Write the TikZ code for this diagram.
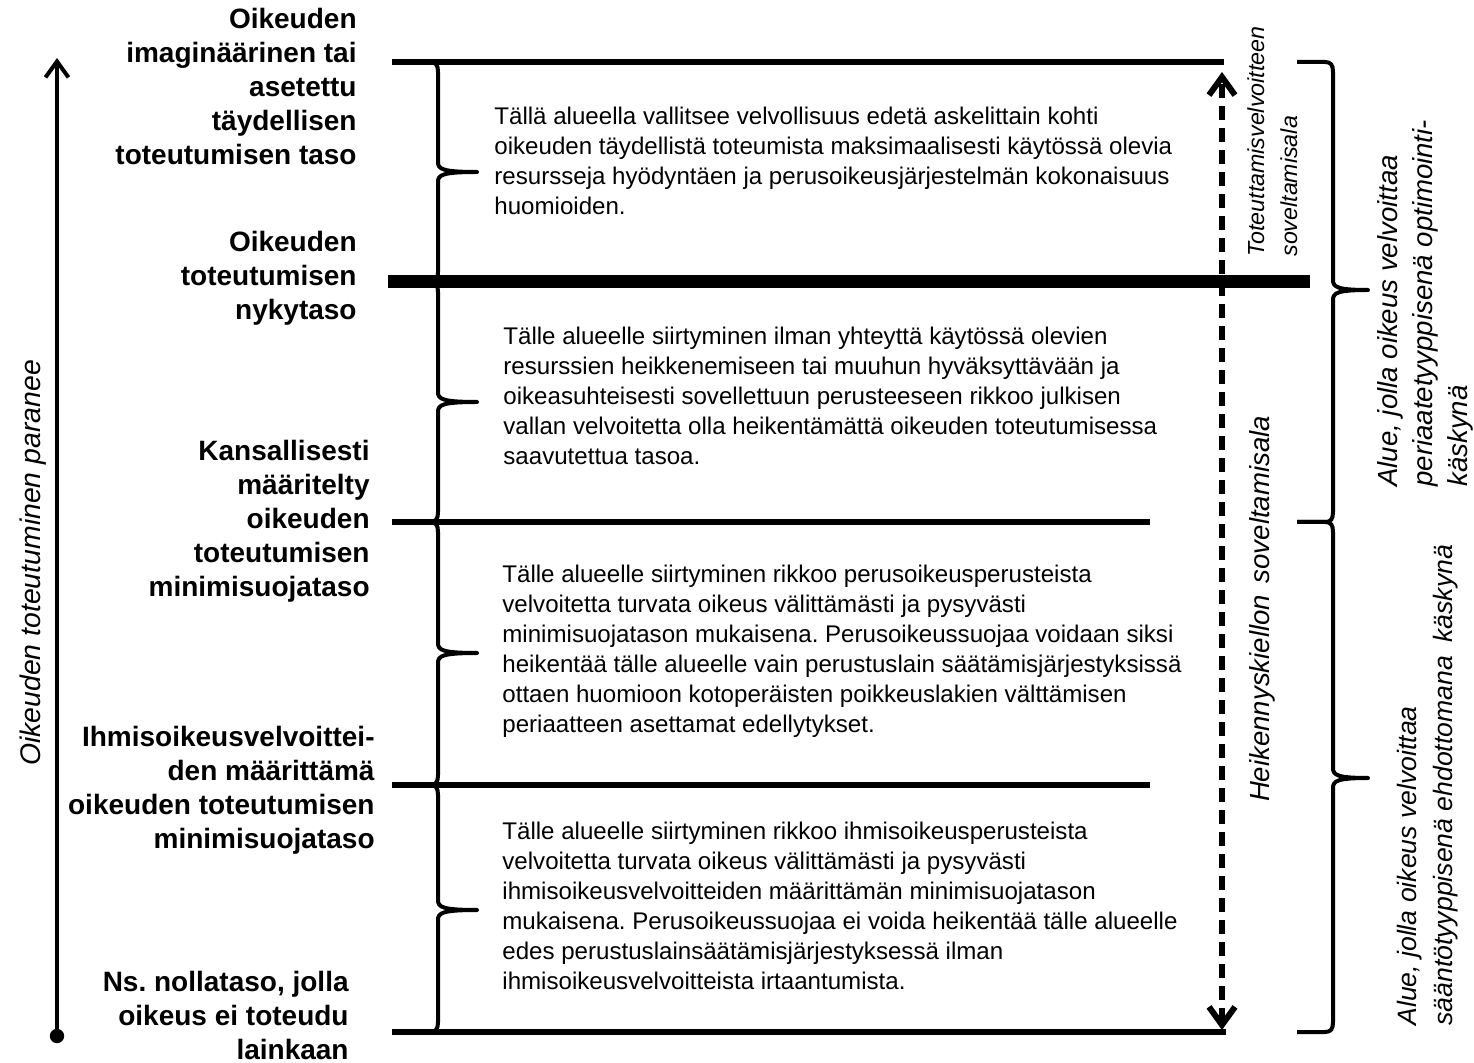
\documentclass[tikz,border=0pt]{standalone}
\usepackage{fontspec}
\setmainfont{Liberation Sans}
\usetikzlibrary{arrows.meta}
\frenchspacing
\newcommand\Brc[6]{%
  \draw[brc] (#1,#4) -- ({#2-8},#4) .. controls ({#2-2},#4) and (#2,{#4+3}) .. (#2,{#4+10})
    -- (#2,{#5-10}) .. controls (#2,{#5-3}) and ({#2+4},#5) .. (#3,#5)
    .. controls ({#2+4},#5) and (#2,{#5+3}) .. (#2,{#5+10})
    -- (#2,{#6-10}) .. controls (#2,{#6-3}) and ({#2-2},#6) .. ({#2-8},#6) -- (#1,#6);}
\begin{document}
\begin{tikzpicture}[x=0.5pt,y=-0.5pt,
  lvl/.style={line width=3pt},
  brc/.style={line width=2pt, line join=round},
  body/.style={font=\fontsize{12.05}{15}\selectfont, align=left, anchor=north west, inner sep=0pt},
  lab/.style={font=\bfseries\fontsize{14}{17}\selectfont, align=right, anchor=north east, inner sep=0pt},
  rlab/.style={font=\itshape\fontsize{12}{17}\selectfont, align=left, rotate=90, inner sep=0pt},
  dasharr/.style={line width=3pt, dash pattern=on 7pt off 4pt,
     {Straight Barb[length=9pt,width=13pt]}-{Straight Barb[length=9pt,width=13pt]}},
  axis/.style={line width=2pt, -{Straight Barb[length=8pt,width=11.5pt]}}]
\useasboundingbox (0,0) rectangle (1474,1063);

% level lines
\draw[lvl] (392,62) -- (1224,62);
\draw[line width=6.5pt] (388,282) -- (1310,282);
\draw[lvl] (392,522) -- (1150,522);
\draw[lvl] (392,785) -- (1150,785);
\draw[lvl] (392,1032) -- (1226,1032);

% left braces
\Brc{428}{438}{477}{62}{172}{282}
\Brc{428}{438}{477}{282}{402}{522}
\Brc{428}{438}{477}{522}{653}{785}
\Brc{428}{438}{477}{785}{910}{1032}
% right braces
\Brc{1297}{1333}{1368}{62}{290}{522}
\Brc{1297}{1333}{1368}{522}{778}{1032}

% axis
\coordinate (axb) at (57,1036);
\coordinate (axt) at (57,58);
\draw[axis] (axb) -- (axt);
\fill (axb) circle[radius=3.6pt];
\node[rlab, font=\itshape\fontsize{14.2}{17}\selectfont] (axl) at (33,563) {Oikeuden toteutuminen paranee};

% dashed arrow
\coordinate (db) at (1222,1030);
\coordinate (dt) at (1222,72);
\draw[dasharr] (db) -- (dt);

% left labels
\node[lab] (l1) at (357,8) {Oikeuden\\imaginäärinen tai\\asetettu\\täydellisen\\toteutumisen taso};
\node[lab] (l2) at (357,231) {Oikeuden\\toteutumisen\\nykytaso};
\node[lab] (l3) at (370,440) {Kansallisesti\\määritelty\\oikeuden\\toteutumisen\\minimisuojataso};
\node[lab] (l4) at (375,726) {Ihmisoikeusvelvoittei-\\den määrittämä\\oikeuden toteutumisen\\minimisuojataso};
\node[lab] (l5) at (349,971) {Ns. nollataso, jolla\\oikeus ei toteudu\\lainkaan};

% body texts
\node[body] (t1) at (494,107) {Tällä alueella vallitsee velvollisuus edetä askelittain kohti\\oikeuden täydellistä toteumista maksimaalisesti käytössä olevia\\resursseja hyödyntäen ja perusoikeusjärjestelmän kokonaisuus\\huomioiden.};
\node[body] (t2) at (503,327) {Tälle alueelle siirtyminen ilman yhteyttä käytössä olevien\\resurssien heikkenemiseen tai muuhun hyväksyttävään ja\\oikeasuhteisesti sovellettuun perusteeseen rikkoo julkisen\\vallan velvoitetta olla heikentämättä oikeuden toteutumisessa\\saavutettua tasoa.};
\node[body] (t3) at (502,565) {Tälle alueelle siirtyminen rikkoo perusoikeusperusteista\\velvoitetta turvata oikeus välittämästi ja pysyvästi\\minimisuojatason mukaisena. Perusoikeussuojaa voidaan siksi\\heikentää tälle alueelle vain perustuslain säätämisjärjestyksissä\\ottaen huomioon kotoperäisten poikkeuslakien välttämisen\\periaatteen asettamat edellytykset.};
\node[body] (t4) at (502,822) {Tälle alueelle siirtyminen rikkoo ihmisoikeusperusteista\\velvoitetta turvata oikeus välittämästi ja pysyvästi\\ihmisoikeusvelvoitteiden määrittämän minimisuojatason\\mukaisena. Perusoikeussuojaa ei voida heikentää tälle alueelle\\edes perustuslainsäätämisjärjestyksessä ilman\\ihmisoikeusvelvoitteista irtaantumista.};

% rotated labels on the right
\node[rlab, anchor=north west, font=\itshape\fontsize{11.6}{16.5}\selectfont] (r1) at (1247,257) {Toteuttamisvelvoitteen\\soveltamisala};
\node[rlab, font=\itshape\fontsize{13.8}{17}\selectfont] (r2) at (1262,609) {Heikennyskiellon\hspace{2pt} soveltamisala};
\node[rlab, anchor=north west, font=\itshape\fontsize{13.8}{17.5}\selectfont] (r3) at (1377,487) {Alue, jolla oikeus velvoittaa\\periaatetyyppisenä optimointi-\\käskynä};
\node[rlab, anchor=north west, font=\itshape\fontsize{13.3}{18}\selectfont] (r4) at (1397,1026) {Alue, jolla oikeus velvoittaa\\sääntötyyppisenä ehdottomana\hspace{3pt} käskynä};
\end{tikzpicture}
\end{document}
